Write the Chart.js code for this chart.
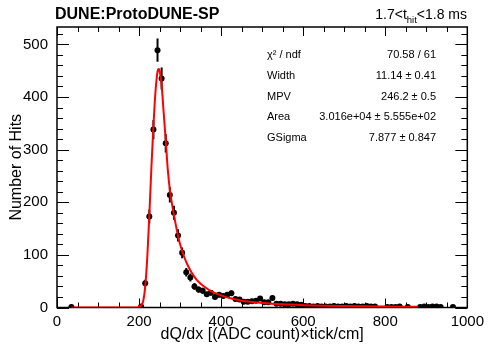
<!DOCTYPE html>
<html>
<head>
<meta charset="utf-8">
<script src="https://cdn.jsdelivr.net/npm/chart.js@4"></script>
<style>
  html, body { margin: 0; padding: 0; background: #fff; }
</style>
</head>
<body>
<canvas id="dqdx" width="489" height="344"></canvas>
<script>
// dQ/dx histogram (10 wide bins, only non-empty bins are listed)
const binCenters = [35, 205, 215, 225, 235, 245, 255, 265, 275, 285, 295, 305, 315, 325, 335, 345, 355, 365, 375, 385,
  395, 405, 415, 425, 435, 445, 455, 465, 475, 485, 495, 505, 515, 525, 535, 545, 555, 565, 575, 585,
  595, 605, 615, 625, 635, 645, 655, 665, 675, 685, 695, 705, 715, 725, 735, 745, 755, 765, 775,
  805, 815, 825, 835, 855, 885, 895, 905, 915, 925, 935, 965];
const hits = [1, 2, 46, 173, 338, 489, 435, 312, 214, 180, 137, 104, 67, 57, 40, 34, 32, 25, 28, 20,
  24, 22, 24, 27, 16, 15, 11, 11, 12, 13, 17, 10, 10, 18, 7, 7, 6, 6, 7, 6,
  5, 3, 3, 2, 3, 2, 2, 2, 3, 2, 2, 3, 2, 3, 2, 2, 3, 2, 2,
  1, 1, 1, 2, 1, 1, 2, 1, 2, 2, 1, 1];

// Landau x Gaussian fit
const fitX = [35, 100, 195, 200, 205, 210, 215, 220, 225, 230, 235, 240, 245, 248, 250, 255, 260, 265, 270, 275,
  280, 285, 290, 295, 300, 310, 320, 330, 340, 350, 360, 375, 400, 425, 450, 475, 500, 550, 600, 650,
  700, 800, 880];
const fitY = [0, 0, 0, 1, 4, 12, 40, 95, 175, 265, 345, 410, 448, 453, 450, 422, 370, 318, 262, 224,
  198, 176, 155, 136, 120, 96, 78, 64, 53, 45, 39, 31, 23, 17, 13, 10.5, 8.5, 6, 4.5, 3.5,
  2.8, 1.9, 1.5];

const statLabels = ['\u03c7\u00b2 / ndf', 'Width', 'MPV', 'Area', 'GSigma'];
const statValues = ['70.58 / 61', '11.14 \u00b1 0.41', '246.2 \u00b1 0.5', '3.016e+04 \u00b1 5.555e+02', '7.877 \u00b1 0.847'];

const FONT = '"Liberation Sans", Arial, Helvetica, sans-serif';

const rootFrame = {
  id: 'rootFrame',
  beforeDatasetsDraw(chart) {
    const { ctx, chartArea: a, scales: { x, y } } = chart;
    ctx.save();
    ctx.strokeStyle = '#000';
    ctx.lineWidth = 1.5;
    ctx.strokeRect(a.left, a.top, a.right - a.left, a.bottom - a.top);

    ctx.lineWidth = 1;
    ctx.beginPath();
    for (let v = x.min; v <= x.max; v += 50) {
      const px = Math.round(x.getPixelForValue(v)) + 0.5;
      const len = v % 200 === 0 ? 9 : 5;
      ctx.moveTo(px, a.bottom); ctx.lineTo(px, a.bottom - len);
      ctx.moveTo(px, a.top); ctx.lineTo(px, a.top + len);
    }
    for (let v = 0; v <= y.max; v += 20) {
      const py = Math.round(y.getPixelForValue(v)) + 0.5;
      const len = v % 100 === 0 ? 12 : 6;
      ctx.moveTo(a.left, py); ctx.lineTo(a.left + len, py);
      ctx.moveTo(a.right, py); ctx.lineTo(a.right - len, py);
    }
    ctx.stroke();

    // vertical error bars, sqrt(N)
    ctx.beginPath();
    ctx.rect(a.left, a.top, a.right - a.left, a.bottom - a.top);
    ctx.clip();
    ctx.lineWidth = 2;
    ctx.beginPath();
    hits.forEach((n, i) => {
      const px = x.getPixelForValue(binCenters[i]);
      const e = Math.sqrt(n);
      ctx.moveTo(px, y.getPixelForValue(n + e));
      ctx.lineTo(px, y.getPixelForValue(Math.max(0, n - e)));
    });
    ctx.stroke();
    ctx.restore();
  },
  afterDraw(chart) {
    const { ctx } = chart;
    ctx.save();
    ctx.fillStyle = '#000';
    ctx.textBaseline = 'alphabetic';

    ctx.font = 'bold 16px ' + FONT;
    ctx.textAlign = 'left';
    ctx.fillText('DUNE:ProtoDUNE-SP', 55, 19);

    // 1.7<t_hit<1.8 ms, right aligned
    const big = '14px ' + FONT, small = '9.5px ' + FONT;
    ctx.font = big;
    const w1 = ctx.measureText('1.7<t').width;
    const w3 = ctx.measureText('<1.8 ms').width;
    ctx.font = small;
    const w2 = ctx.measureText('hit').width;
    let sx = 467 - (w1 + w2 + w3);
    ctx.font = big;
    ctx.fillText('1.7<t', sx, 19);
    ctx.font = small;
    ctx.fillText('hit', sx + w1, 22.5);
    ctx.font = big;
    ctx.fillText('<1.8 ms', sx + w1 + w2, 19);

    // fit statistics
    ctx.font = '11px ' + FONT;
    statLabels.forEach((lab, i) => {
      const yy = 58 + i * 20.8;
      ctx.textAlign = 'left';
      ctx.fillText(lab, 267, yy);
      ctx.textAlign = 'right';
      ctx.fillText(statValues[i], 436, yy);
    });
    ctx.restore();
  }
};

new Chart(document.getElementById('dqdx'), {
  type: 'scatter',
  data: {
    datasets: [
      {
        type: 'line',
        label: 'fit',
        data: fitX.map((v, i) => ({ x: v, y: fitY[i] })),
        borderColor: '#ff0000',
        borderWidth: 2,
        pointRadius: 0,
        cubicInterpolationMode: 'monotone',
        order: 0,
      },
      {
        label: 'hits',
        data: binCenters.map((v, i) => ({ x: v, y: hits[i] })),
        backgroundColor: '#000',
        borderColor: '#000',
        pointRadius: 3,
        pointBorderWidth: 0,
        order: 1,
      },
    ],
  },
  options: {
    responsive: false,
    animation: false,
    devicePixelRatio: 1,
    layout: { padding: { top: 27, right: 19, left: 0, bottom: 0 } },
    plugins: { legend: { display: false }, tooltip: { enabled: false } },
    scales: {
      x: {
        type: 'linear',
        min: 0,
        max: 1000,
        grid: { display: false, drawTicks: false },
        border: { display: false },
        ticks: {
          stepSize: 200, autoSkip: false, maxRotation: 0, padding: 5, color: '#000',
          font: { family: FONT, size: 15 },
          callback: (v) => String(v),
        },
        title: { display: true, text: 'dQ/dx [(ADC count)\u00d7tick/cm]', color: '#000', font: { family: FONT, size: 16 }, padding: { top: 0, bottom: 0 } },
        afterFit(s) { s.height = 36.5; },
      },
      y: {
        min: 0,
        max: 533,
        grid: { display: false, drawTicks: false },
        border: { display: false },
        ticks: { stepSize: 100, includeBounds: false, padding: 9, color: '#000', font: { family: FONT, size: 15 } },
        title: { display: true, text: 'Number of Hits', color: '#000', font: { family: FONT, size: 16 }, padding: { top: 7, bottom: 0 } },
        afterFit(s) { s.width = 57; },
      },
    },
  },
  plugins: [rootFrame],
});
</script>
</body>
</html>
